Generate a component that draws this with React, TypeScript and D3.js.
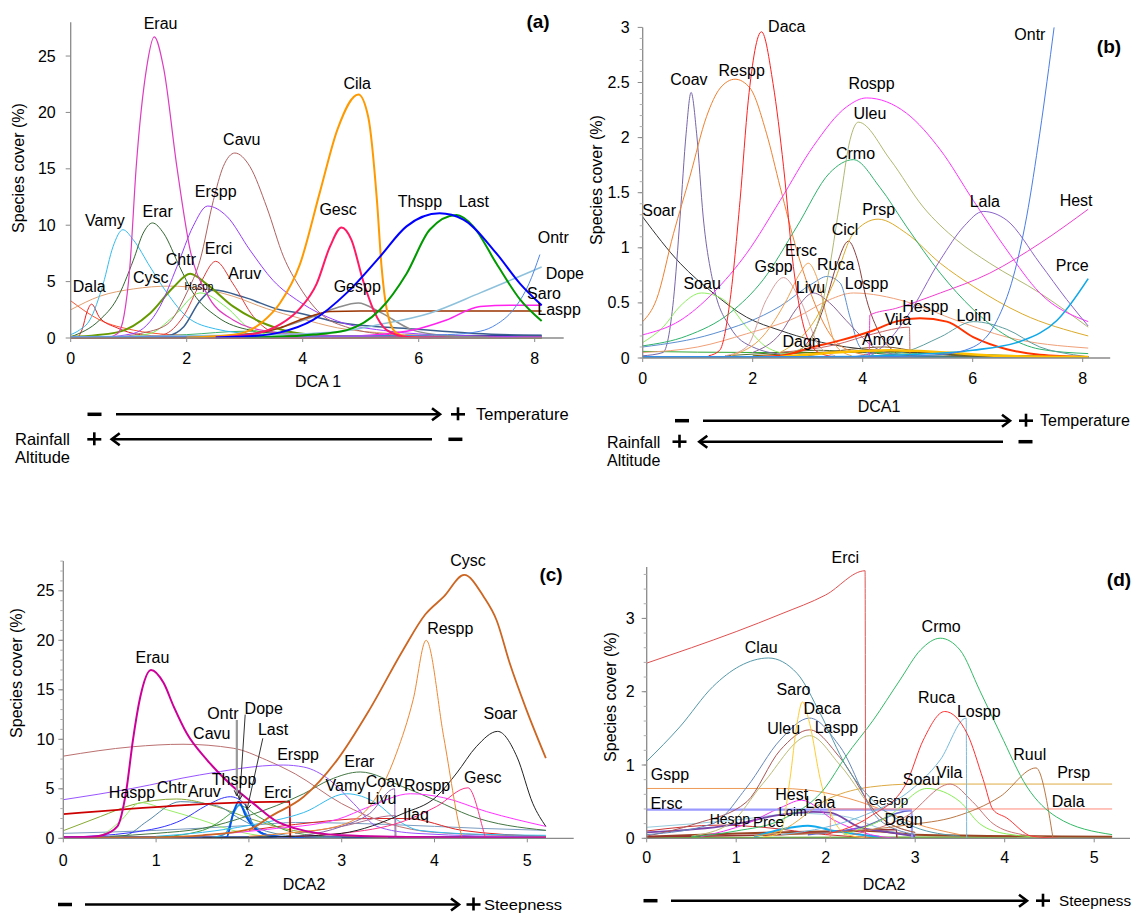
import React from 'react';
import * as d3 from 'd3';

type Pt = [number, number];
type Curve = { sp: string; pts: Pt[] };
type Lab = [string, number, number, number?];

const FONT = '"Liberation Sans", Arial, Helvetica, sans-serif';

// ---------- (a) cover along DCA1 ----------
const curvesA: Curve[] = [
  { sp: 'base1', pts: [[0, 0.02], [8.12, 0.05]] },
  { sp: 'base2', pts: [[0, 0.05], [3, 0.1], [5, 0.2], [8.12, 0.25]] },
  { sp: 'base3', pts: [[0, 0.05], [2, 0.3], [3, 0.6], [4, 0.4], [5, 0.1], [8.12, 0.05]] },
  { sp: 'Soar', pts: [[0, 3.3], [0.5, 1.6], [1.08, 0.7], [1.7, 0.3], [2.5, 0.15], [4, 0.05], [8.12, 0.02]] },
  { sp: 'Dala', pts: [[0.12, 0], [0.2, 0.8], [0.28, 2.3], [0.36, 3.0], [0.5, 1.8], [0.8, 0.9], [1.2, 0.3], [2, 0.08], [4, 0.02]] },
  { sp: 'Cysc', pts: [[0, 2.5], [0.5, 3.7], [1.08, 4.35], [1.71, 4.6], [2.23, 4.4], [2.8, 3.7], [3.38, 2.6], [3.95, 1.75], [4.6, 0.9], [5.5, 0.4], [6.5, 0.2], [8.12, 0.1]] },
  { sp: 'Vamy', pts: [[0, 0.3], [0.15, 0.7], [0.33, 1.6], [0.56, 4.8], [0.73, 8.1], [0.9, 9.6], [1.08, 8.7], [1.37, 6.3], [1.66, 4], [2.0, 1.9], [2.5, 0.8], [3.2, 0.35], [4.5, 0.15], [8.12, 0.05]] },
  { sp: 'Erar', pts: [[0, 0.1], [0.5, 1.6], [0.79, 3.4], [1.08, 6.9], [1.25, 9.3], [1.41, 10.2], [1.6, 9.3], [1.88, 6.3], [2.11, 4], [2.52, 1.9], [3.1, 0.7], [4, 0.25], [5.5, 0.1], [8.12, 0.05]] },
  { sp: 'Haspp', pts: [[0.8, 0.05], [1.37, 0.4], [1.77, 1.9], [2.23, 4.0], [2.69, 2.7], [3.1, 0.8], [3.6, 0.2], [4.5, 0.05]] },
  { sp: 'Aruv', pts: [[1.0, 0.05], [1.66, 0.2], [1.95, 1.0], [2.23, 3.3], [2.46, 4.25], [3.0, 3.6], [3.61, 2.5], [3.95, 2.2], [4.6, 1.4], [5.9, 0.8], [7, 0.4], [8.12, 0.2]] },
  { sp: 'Erci', pts: [[1.2, 0.05], [1.6, 0.3], [1.94, 1.9], [2.23, 4.8], [2.5, 6.8], [2.8, 4.8], [3.15, 1.9], [3.55, 0.4], [4.2, 0.05]] },
  { sp: 'Chtr', pts: [[0, 0.1], [0.8, 0.5], [1.37, 2.2], [1.77, 4.5], [2.06, 5.7], [2.34, 4.8], [2.8, 2.8], [3.38, 1.2], [3.95, 0.4], [5, 0.1], [8.12, 0.03]] },
  { sp: 'Erspp', pts: [[0.5, 0.05], [1.08, 0.4], [1.54, 2.8], [1.83, 6.3], [2.11, 9.9], [2.36, 11.7], [2.69, 10.8], [3.09, 7.8], [3.49, 5.1], [3.95, 3.2], [4.6, 1.5], [5.5, 0.6], [6.5, 0.25], [8.12, 0.1]] },
  { sp: 'Cavu', pts: [[0.8, 0.05], [1.2, 0.4], [1.66, 1.2], [2.0, 4], [2.23, 6.9], [2.46, 12.2], [2.63, 15.2], [2.83, 16.4], [3.09, 15.2], [3.38, 11.6], [3.67, 7.2], [3.95, 4.5], [4.3, 2.2], [4.8, 0.9], [5.5, 0.3], [6.5, 0.1]] },
  { sp: 'Erau', pts: [[0, 0.05], [0.6, 0.05], [0.81, 0.4], [0.92, 2], [1.02, 6.3], [1.13, 15.2], [1.31, 24], [1.44, 26.7], [1.6, 24], [1.83, 15.2], [2.06, 7.8], [2.34, 4], [2.8, 1.6], [3.4, 0.6], [4.2, 0.25], [5.5, 0.1], [8.12, 0.05]] },
  { sp: 'Gespp', pts: [[2.0, 0.05], [3.0, 0.3], [3.61, 0.9], [4.18, 1.9], [4.6, 2.7], [4.96, 3.1], [5.33, 2.3], [5.9, 0.7], [6.5, 0.2], [7.2, 0.05]] },
  { sp: 'Laspp', pts: [[0, 0.02], [2, 0.05], [3, 0.3], [3.61, 0.9], [3.95, 1.6], [4.18, 2.0], [4.47, 2.35], [5, 2.4], [8.12, 2.4]] },
  { sp: 'Dope', pts: [[0, 0.1], [2, 0.2], [3.5, 0.3], [4.5, 0.5], [5.33, 1.2], [6.19, 2.2], [7.06, 4], [8.12, 6.3]] },
  { sp: 'Saro', pts: [[3, 0.05], [4.5, 0.1], [5.33, 0.3], [5.9, 0.7], [6.48, 1.6], [7.06, 2.8], [7.6, 2.9], [8.12, 2.9]] },
  { sp: 'Ontr', pts: [[0, 0.1], [4, 0.15], [5.5, 0.2], [6.5, 0.3], [7.06, 0.6], [7.34, 1.2], [7.63, 2.5], [7.9, 4.8], [8.09, 7.4]] },
  { sp: 'Cila', pts: [[2.0, 0.05], [2.5, 0.15], [3.0, 0.5], [3.3, 1.4], [3.61, 3.1], [3.95, 6.5], [4.3, 13], [4.6, 18.5], [4.96, 21.6], [5.13, 19.6], [5.28, 12.2], [5.36, 6.3], [5.45, 2.5], [5.6, 0.5], [5.8, 0.1], [6.2, 0]] },
  { sp: 'Gesc', pts: [[2.5, 0.05], [3.2, 0.4], [3.61, 1.2], [3.95, 2.6], [4.24, 4.8], [4.47, 8.1], [4.67, 9.8], [4.84, 8.7], [5.04, 5.1], [5.22, 2.5], [5.45, 0.7], [5.8, 0.1], [6.2, 0]] },
  { sp: 'Last', pts: [[3.0, 0.05], [3.6, 0.1], [4.18, 0.3], [4.76, 0.7], [5.33, 2.5], [5.79, 5.7], [6.19, 9.6], [6.65, 10.9], [6.94, 9.9], [7.34, 6.6], [7.75, 3.4], [8.12, 1.5]] },
  { sp: 'Thspp', pts: [[2.5, 0.05], [3.2, 0.2], [3.61, 0.5], [4.18, 1.6], [4.76, 4], [5.33, 7.2], [5.79, 9.9], [6.36, 11.05], [6.77, 10.5], [7.34, 7.5], [7.75, 4.8], [8.12, 2.9]] },
];
const styleA: Record<string, [string, number]> = {
  base1: ['#e00000', 2], base2: ['#1f3a93', 1.2], base3: ['#3cb371', 1],
  Soar: ['#ff5533', 1], Dala: ['#e82020', 1], Cysc: ['#e0a070', 1], Vamy: ['#33bbee', 1],
  Erar: ['#336633', 1], Haspp: ['#77ee55', 1], Aruv: ['#3a5f8f', 1.5], Erci: ['#e03c3c', 1],
  Chtr: ['#669900', 2], Erspp: ['#9a3cff', 1], Cavu: ['#b06060', 1], Erau: ['#dd3cc0', 1.2],
  Gespp: ['#8c8c8c', 1.5], Laspp: ['#993300', 1.5], Dope: ['#8ec1dc', 1.5], Saro: ['#ff22ee', 1.5],
  Ontr: ['#4f86e8', 1], Cila: ['#ff9900', 2], Gesc: ['#ff1a66', 2], Last: ['#009900', 2], Thspp: ['#0000ff', 2],
};
const labelsA: Lab[] = [
  ['Erau', 1.55, 27.4], ['Cavu', 2.95, 17.1], ['Erspp', 2.5, 12.5], ['Vamy', 0.59, 9.93],
  ['Erar', 1.5, 10.75], ['Chtr', 1.9, 6.47], ['Erci', 2.55, 7.45], ['Cysc', 1.38, 4.9],
  ['Aruv', 3.0, 5.2], ['Haspp', 2.21, 4.26, 10], ['Dala', 0.32, 4.1], ['Cila', 4.94, 22.1],
  ['Gesc', 4.61, 10.9], ['Thspp', 6.02, 11.6], ['Last', 6.95, 11.6], ['Gespp', 4.94, 4.1],
  ['Ontr', 8.32, 8.4], ['Dope', 8.52, 5.25], ['Saro', 8.16, 3.45], ['Laspp', 8.42, 2.0],
];

// ---------- (b) cover along DCA1, small species ----------
const curvesB: Curve[] = [
  { sp: 'base1', pts: [[0, 0.01], [8.1, 0.01]] },
  { sp: 'base2', pts: [[0, 0.06], [2, 0.05], [4, 0.05], [6, 0.03], [8.1, 0.01]] },
  { sp: 'base3', pts: [[2, 0.02], [4, 0.06], [5, 0.05], [6, 0.02], [8.1, 0.01]] },
  { sp: 'Dagn', pts: [[1.5, 0.02], [2.5, 0.05], [3.2, 0.07], [4, 0.05], [5, 0.02], [8.1, 0.01]] },
  { sp: 'Amov', pts: [[3, 0.02], [3.8, 0.08], [4.4, 0.1], [5, 0.06], [5.8, 0.02], [8.1, 0.01]] },
  { sp: 'Soar', pts: [[0, 1.28], [0.68, 0.86], [1.28, 0.59], [1.89, 0.37], [2.5, 0.25], [3.1, 0.16], [3.7, 0.1], [5, 0.05], [8.1, 0.01]] },
  { sp: 'Coav', pts: [[0, 0.02], [0.37, 0.05], [0.56, 0.53], [0.68, 1.28], [0.79, 2.04], [0.88, 2.41], [0.98, 2.04], [1.1, 1.28], [1.28, 0.68], [1.59, 0.28], [2.0, 0.1], [2.6, 0.03], [3.5, 0.01]] },
  { sp: 'Respp', pts: [[0, 0.33], [0.25, 0.53], [0.56, 1.13], [0.86, 1.65], [1.16, 2.19], [1.41, 2.45], [1.68, 2.53], [1.95, 2.45], [2.25, 2.04], [2.5, 1.55], [2.8, 0.98], [3.1, 0.53], [3.4, 0.22], [3.7, 0.08], [4.2, 0.02]] },
  { sp: 'Soau', pts: [[0, 0.14], [0.37, 0.28], [0.68, 0.47], [1.07, 0.59], [1.47, 0.53], [1.89, 0.28], [2.25, 0.1], [2.7, 0.03]] },
  { sp: 'Lospp', pts: [[0, 0.05], [1.0, 0.1], [1.89, 0.22], [2.8, 0.37], [3.4, 0.53], [3.83, 0.59], [4.8, 0.51], [5.71, 0.34], [6.62, 0.19], [8.1, 0.09]] },
  { sp: 'Ruca', pts: [[0, 0.1], [1.28, 0.22], [2.5, 0.47], [3.1, 0.68], [3.35, 0.74], [3.59, 0.68], [3.77, 0.37], [3.95, 0.1], [4.2, 0.03]] },
  { sp: 'Gspp', pts: [[1.5, 0.02], [1.89, 0.1], [2.25, 0.53], [2.56, 0.73], [2.86, 0.53], [3.22, 0.1], [3.5, 0.02]] },
  { sp: 'Ersc', pts: [[1.6, 0.02], [2.19, 0.2], [2.62, 0.53], [2.86, 0.77], [3.01, 0.86], [3.16, 0.74], [3.35, 0.37], [3.53, 0.1], [3.8, 0.02]] },
  { sp: 'Livu', pts: [[2.0, 0.05], [2.5, 0.22], [2.8, 0.45], [3.1, 0.59], [3.4, 0.5], [3.7, 0.34], [4.2, 0.1], [4.6, 0.03]] },
  { sp: 'Cicl', pts: [[2.8, 0.05], [3.1, 0.22], [3.35, 0.55], [3.53, 0.85], [3.74, 1.06], [3.9, 0.9], [4.07, 0.53], [4.31, 0.22], [4.6, 0.05]] },
  { sp: 'Vila', pts: [[2.5, 0.05], [3.5, 0.12], [4.2, 0.22], [4.85, 0.28], [4.86, 0]] },
  { sp: 'Prsp', pts: [[2.5, 0.05], [2.8, 0.15], [3.1, 0.32], [3.47, 0.68], [3.83, 1.13], [4.28, 1.26], [4.8, 1.13], [5.41, 0.86], [6.01, 0.65], [6.9, 0.4], [8.1, 0.2]] },
  { sp: 'Crmo', pts: [[0, 0.11], [0.8, 0.2], [1.59, 0.41], [2.19, 0.71], [2.8, 1.19], [3.4, 1.68], [3.83, 1.8], [4.31, 1.55], [4.8, 1.19], [5.41, 0.77], [6.01, 0.44], [6.62, 0.2], [7.22, 0.08], [8.1, 0.04]] },
  { sp: 'Uleu', pts: [[2.5, 0.03], [3.0, 0.12], [3.2, 0.35], [3.4, 0.83], [3.59, 1.43], [3.77, 1.98], [3.92, 2.14], [4.5, 1.8], [5.1, 1.37], [5.71, 1.07], [6.31, 0.86], [7.22, 0.59], [8.1, 0.28]] },
  { sp: 'Rospp', pts: [[0, 0.21], [0.68, 0.34], [1.28, 0.59], [1.89, 0.95], [2.5, 1.43], [3.1, 1.92], [3.71, 2.28], [4.07, 2.36], [4.8, 2.22], [5.41, 1.89], [6.01, 1.43], [6.62, 0.98], [7.22, 0.59], [8.1, 0.33]] },
  { sp: 'Daca', pts: [[1.2, 0.02], [1.4, 0.07], [1.59, 0.53], [1.77, 1.43], [1.92, 2.34], [2.16, 2.96], [2.37, 2.49], [2.56, 1.74], [2.74, 0.83], [2.98, 0.2], [3.2, 0.05], [3.5, 0.01]] },
  { sp: 'Lala', pts: [[3.8, 0.01], [4.2, 0.05], [4.8, 0.37], [5.41, 0.89], [5.85, 1.2], [6.19, 1.33], [6.62, 1.25], [7.22, 0.86], [7.71, 0.53], [8.1, 0.29]] },
  { sp: 'Loim', pts: [[4.2, 0.02], [4.8, 0.06], [5.41, 0.19], [6.01, 0.33], [6.62, 0.26], [7.22, 0.1], [7.83, 0.03], [8.1, 0.01]] },
  { sp: 'Hest', pts: [[4.12, 0], [4.13, 0.39], [4.6, 0.45], [5.41, 0.59], [6.31, 0.77], [7.22, 1.04], [8.1, 1.35]] },
  { sp: 'Hespp', pts: [[2.0, 0.01], [2.5, 0.02], [3.1, 0.1], [3.59, 0.16], [4.19, 0.25], [4.6, 0.33], [5.04, 0.36], [5.53, 0.33], [6.01, 0.19], [6.62, 0.08], [7.22, 0.03], [8.1, 0.01]] },
  { sp: 'Gold', pts: [[2.5, 0.01], [3.5, 0.05], [4.5, 0.07], [5.5, 0.05], [6.5, 0.02], [8.1, 0.01]] },
  { sp: 'Prce', pts: [[0, 0.01], [3, 0.01], [4.8, 0.03], [6.0, 0.07], [6.92, 0.16], [7.53, 0.34], [8.1, 0.72]] },
  { sp: 'Ontr', pts: [[0, 0.01], [4, 0.01], [5.4, 0.03], [6.01, 0.1], [6.44, 0.34], [6.74, 0.74], [6.98, 1.28], [7.22, 2.04], [7.48, 3.0]] },
];
const styleB: Record<string, [string, number]> = {
  base1: ['#0070c0', 1.5], base2: ['#33aa33', 1], base3: ['#666600', 1], Dagn: ['#556b2f', 1], Amov: ['#7a5a2a', 1],
  Soar: ['#333333', 1], Coav: ['#7766aa', 1], Respp: ['#f08030', 1], Soau: ['#90ee60', 1], Lospp: ['#f0a078', 1],
  Ruca: ['#5b8fd0', 1], Gspp: ['#d8a0a0', 1], Ersc: ['#f0a050', 1], Livu: ['#8a6699', 1], Cicl: ['#8b4040', 1],
  Vila: ['#c86464', 1], Prsp: ['#dcaa28', 1], Crmo: ['#2db36b', 1], Uleu: ['#b0b870', 1], Rospp: ['#ff33ff', 1],
  Daca: ['#ff2020', 1], Lala: ['#8a63c9', 1], Loim: ['#5f9ea0', 1], Hest: ['#f040d0', 1], Hespp: ['#ff3300', 2],
  Gold: ['#ffc000', 2.5], Prce: ['#10a8e8', 1.6], Ontr: ['#4a7de8', 1],
};
const labelsB: Lab[] = [
  ['Soar', 0.3, 1.29], ['Coav', 0.84, 2.48], ['Respp', 1.8, 2.56], ['Daca', 2.62, 2.96],
  ['Soau', 1.08, 0.63], ['Gspp', 2.38, 0.78], ['Ersc', 2.88, 0.93], ['Ruca', 3.51, 0.8],
  ['Livu', 3.05, 0.59], ['Cicl', 3.68, 1.12], ['Dagn', 2.89, 0.1], ['Crmo', 3.87, 1.81],
  ['Rospp', 4.16, 2.44], ['Uleu', 4.13, 2.17], ['Prsp', 4.29, 1.3], ['Lospp', 4.07, 0.63],
  ['Hespp', 5.14, 0.42], ['Vila', 4.64, 0.3], ['Amov', 4.36, 0.12], ['Loim', 6.02, 0.34],
  ['Lala', 6.22, 1.37], ['Hest', 7.88, 1.38], ['Prce', 7.81, 0.79], ['Ontr', 7.04, 2.89],
];

// ---------- (c) cover along DCA2 ----------
const curvesC: Curve[] = [
  { sp: 'base1', pts: [[0, 0.1], [5.2, 0.1]] },
  { sp: 'base2', pts: [[0, 0.5], [1, 0.8], [2, 1.3], [2.5, 1.6], [3.5, 1.4], [4.5, 1.0], [5.2, 0.8]] },
  { sp: 'Ilaq', pts: [[2.0, 0.8], [2.5, 1.4], [3.3, 2.0], [3.7, 2.0], [4.3, 0.8], [5.2, 0.2]] },
  { sp: 'Cavu', pts: [[0, 8.3], [0.75, 9.25], [1.29, 9.5], [1.83, 9.1], [2.19, 7.9], [2.5, 6.5], [3.0, 3.5], [3.5, 1.5], [4, 0.6], [5.2, 0.2]] },
  { sp: 'Erspp', pts: [[0, 3.9], [0.75, 5.05], [1.47, 6.4], [2.37, 7.4], [2.59, 7.2], [2.87, 5.9], [3.13, 3.5], [3.38, 1.2], [3.8, 0.5], [5.2, 0.1]] },
  { sp: 'Chtr', pts: [[0, 0.77], [0.4, 2.2], [0.75, 3.4], [1.22, 3.97], [1.65, 3.2], [2.01, 2.0], [2.37, 1.0], [2.8, 0.4], [3.5, 0.1]] },
  { sp: 'Haspp', pts: [[0.2, 0.05], [0.4, 0.3], [0.61, 1.7], [0.83, 3.6], [1.11, 2.9], [1.47, 1.9], [1.83, 0.8], [2.2, 0.2], [2.6, 0.05]] },
  { sp: 'Aruv', pts: [[0.5, 0.05], [0.68, 0.3], [0.9, 1.7], [1.26, 3.7], [1.65, 3.3], [1.9, 2.0], [2.19, 0.7], [2.6, 0.15], [3, 0.05]] },
  { sp: 'Thspp', pts: [[0, 0.1], [0.75, 0.6], [1.29, 1.9], [1.54, 3.3], [1.8, 4.2], [1.95, 3.5], [2.05, 1.3], [2.19, 0.4], [2.5, 0.1]] },
  { sp: 'Last', pts: [[1.0, 0.1], [1.5, 0.8], [1.8, 2.5], [1.9, 3.3], [2.1, 2.2], [2.4, 0.8], [2.8, 0.2]] },
  { sp: 'Dope', pts: [[1.6, 0.05], [1.75, 0.5], [1.85, 2.8], [1.9, 3.4], [2.0, 2.0], [2.15, 0.5], [2.4, 0.1]] },
  { sp: 'Ontr', pts: [[1.7, 0], [1.76, 0.1], [1.83, 2.5], [1.89, 3.7], [1.97, 2.2], [2.12, 0.6], [2.26, 0.2], [2.6, 0.05]] },
  { sp: 'Erci', pts: [[0, 2.45], [2.44, 3.7], [2.445, 0]] },
  { sp: 'Erar', pts: [[0.5, 0.2], [1.0, 0.5], [1.5, 1.0], [2.0, 2.3], [2.59, 4.5], [2.87, 5.9], [3.2, 6.7], [3.66, 5.2], [4.02, 3.8], [4.38, 2.3], [5.2, 0.8]] },
  { sp: 'Vamy', pts: [[1.0, 0.2], [1.5, 0.6], [2.0, 1.3], [2.59, 2.6], [3.05, 4.5], [3.38, 3.5], [3.59, 1.9], [3.84, 0.8], [4.5, 0.4], [5.2, 0.3]] },
  { sp: 'Livu', pts: [[2.5, 0.5], [3.0, 1.2], [3.58, 2.3], [3.585, 0]] },
  { sp: 'Coav', pts: [[2.3, 0.1], [2.6, 0.3], [3.0, 1.2], [3.3, 2.5], [3.57, 5.0], [3.575, 0]] },
  { sp: 'Rospp', pts: [[1.5, 0.3], [2.2, 0.9], [2.95, 1.9], [3.3, 3.2], [3.74, 4.5], [4.1, 4.1], [4.56, 2.7], [5.2, 1.2]] },
  { sp: 'Gesc', pts: [[2.5, 0.2], [3, 0.5], [3.66, 1.7], [4.02, 3.2], [4.36, 5.1], [4.54, 0.33], [4.55, 0]] },
  { sp: 'Soar', pts: [[1.5, 0.05], [2.5, 0.2], [3, 0.5], [3.66, 2.5], [4.02, 4.2], [4.24, 6.6], [4.45, 9.25], [4.68, 10.8], [4.89, 8.2], [5.06, 3.5], [5.2, 1.2]] },
  { sp: 'Respp', pts: [[2.0, 0.2], [2.5, 0.6], [2.95, 1.2], [3.3, 3.2], [3.59, 8.6], [3.77, 14.0], [3.91, 20.0], [4.1, 10.2], [4.29, 0.33], [4.3, 0]] },
  { sp: 'Cysc', pts: [[0, 0.05], [1.0, 0.1], [1.5, 0.3], [2.0, 0.9], [2.23, 2.2], [2.59, 4.2], [2.95, 7.9], [3.3, 13.0], [3.66, 19.0], [3.9, 22.6], [4.1, 24.4], [4.32, 26.6], [4.53, 24.4], [4.67, 22.0], [4.81, 17.7], [4.99, 13.0], [5.2, 8.1]] },
  { sp: 'Erau', pts: [[0, 0.1], [0.3, 0.15], [0.43, 0.33], [0.58, 1.17], [0.68, 4.9], [0.75, 9.9], [0.83, 14.3], [0.945, 17.0], [1.08, 15.7], [1.19, 13.3], [1.33, 10.6], [1.55, 7.9], [1.83, 5.2], [2.05, 3.5], [2.3, 1.7], [2.5, 1.0], [3.0, 0.3], [4, 0.1], [5.2, 0.05]] },
];
const styleC: Record<string, [string, number]> = {
  base1: ['#1f3a93', 2], base2: ['#7a9cc0', 1], Ilaq: ['#dd2222', 1], Cavu: ['#bb7070', 1], Erspp: ['#9955ff', 1],
  Chtr: ['#88aa33', 1], Haspp: ['#99ee66', 1], Aruv: ['#5588aa', 1], Thspp: ['#3333ff', 1], Last: ['#3fa03f', 1],
  Dope: ['#2a9fd6', 1.5], Ontr: ['#0055ee', 2], Erci: ['#cc0000', 1.8], Erar: ['#447744', 1], Vamy: ['#33bbee', 1],
  Livu: ['#b07090', 1], Coav: ['#8866aa', 1], Rospp: ['#ff33ff', 1], Gesc: ['#ff3388', 1], Soar: ['#222222', 1],
  Respp: ['#ee8833', 1], Cysc: ['#cc6622', 1.8], Erau: ['#cc0099', 2],
};
const labelsC: Lab[] = [
  ['Erau', 0.96, 17.7], ['Cavu', 1.6, 10.0], ['Haspp', 0.74, 4.04], ['Chtr', 1.17, 4.6],
  ['Aruv', 1.52, 4.2], ['Thspp', 1.84, 5.38], ['Ontr', 1.72, 12.1], ['Dope', 2.16, 12.6],
  ['Last', 2.26, 10.4], ['Erci', 2.31, 4.1], ['Erspp', 2.53, 7.9], ['Erar', 3.19, 7.2],
  ['Vamy', 3.04, 4.8], ['Coav', 3.46, 5.2], ['Livu', 3.43, 3.5], ['Rospp', 3.92, 4.8],
  ['Ilaq', 3.8, 1.85], ['Gesc', 4.52, 5.55], ['Soar', 4.71, 12.1], ['Respp', 4.17, 20.6], ['Cysc', 4.36, 27.5],
];
// leader lines in (c): [from x, from y, to x, to y]
const leadersC: [number, number, number, number][] = [
  [1.87, 11.95, 1.87, 4.3], [1.96, 12.5, 1.9, 3.9], [2.15, 10.1, 1.98, 2.9],
];

// ---------- (d) cover along DCA2, small species ----------
const curvesD: Curve[] = [
  { sp: 'base1', pts: [[0, 0.01], [5.2, 0.02]] },
  { sp: 'base2', pts: [[0, 0.02], [2.5, 0.1], [3, 0.05], [5.2, 0.02]] },
  { sp: 'Hespp', pts: [[0, 0.1], [0.82, 0.18], [1.3, 0.15], [2, 0.05], [2.5, 0.01]] },
  { sp: 'Loim', pts: [[0, 0.15], [1, 0.25], [1.7, 0.34], [2.2, 0.3], [2.7, 0.1], [3, 0.03]] },
  { sp: 'Dagn', pts: [[0, 0.02], [1.5, 0.05], [2.79, 0.12], [2.795, 0]] },
  { sp: 'Gespp', pts: [[1.8, 0.05], [2.4, 0.15], [2.96, 0.38], [2.965, 0]] },
  { sp: 'Prce', pts: [[1.2, 0.02], [1.5, 0.12], [1.8, 0.17], [2.1, 0.1], [2.6, 0.02]] },
  { sp: 'Lala', pts: [[0, 0.08], [0.93, 0.18], [1.49, 0.32], [1.86, 0.36], [2.05, 0.35], [2.38, 0.15], [2.6, 0.1], [3, 0.03]] },
  { sp: 'Hest', pts: [[0.6, 0.02], [1.12, 0.2], [1.5, 0.42], [1.73, 0.52], [2.09, 0.25], [2.5, 0.05], [2.8, 0]] },
  { sp: 'Gspp', pts: [[0, 0.68], [1.5, 0.68], [2, 0.62], [2.5, 0.45], [3, 0.2], [3.5, 0.05]] },
  { sp: 'Ersc', pts: [[0, 0.39], [2.96, 0.39], [2.965, 0]] },
  { sp: 'Dala', pts: [[2.05, 0], [2.055, 0.4], [5.2, 0.4]] },
  { sp: 'Prsp', pts: [[1.2, 0.03], [1.49, 0.1], [2.05, 0.55], [2.5, 0.7], [3, 0.74], [5.2, 0.74]] },
  { sp: 'Uleu', pts: [[0.5, 0.03], [0.93, 0.2], [1.3, 0.75], [1.82, 1.4], [2.16, 1.0], [2.6, 0.3], [3, 0.08]] },
  { sp: 'Laspp', pts: [[0, 0.03], [0.55, 0.2], [1.12, 0.5], [1.49, 1.2], [1.82, 1.48], [2.16, 1.1], [2.6, 0.3], [3, 0.08]] },
  { sp: 'Daca', pts: [[0, 0.05], [0.74, 0.2], [1.12, 0.7], [1.49, 1.34], [1.82, 1.64], [2.16, 1.25], [2.6, 0.25], [3, 0.05]] },
  { sp: 'Saro', pts: [[1.3, 0.02], [1.49, 0.07], [1.6, 0.8], [1.68, 1.57], [1.74, 1.86], [1.82, 1.57], [1.94, 0.8], [2.09, 0.25], [2.24, 0.05], [2.5, 0]] },
  { sp: 'Clau', pts: [[0, 1.05], [0.37, 1.52], [0.74, 2.07], [1.04, 2.35], [1.36, 2.46], [1.68, 2.25], [1.94, 1.7], [2.23, 0.98], [2.5, 0.55], [3.0, 0.15], [3.5, 0.03]] },
  { sp: 'Soau', pts: [[2.2, 0.05], [2.7, 0.3], [3.13, 0.68], [3.5, 0.5], [3.72, 0.2], [4.02, 0.06], [4.5, 0.01]] },
  { sp: 'Vila', pts: [[2.3, 0.05], [2.9, 0.3], [3.39, 0.74], [3.64, 0.5], [3.87, 0.2], [4.2, 0.05], [4.6, 0]] },
  { sp: 'Ruul', pts: [[1.5, 0.05], [2.5, 0.12], [2.9, 0.18], [3.46, 0.3], [3.95, 0.57], [4.35, 0.96], [4.54, 0]] },
  { sp: 'Lospp', pts: [[1.5, 0.05], [2.0, 0.15], [2.5, 0.35], [2.9, 0.61], [3.28, 1.07], [3.57, 1.64], [3.575, 0]] },
  { sp: 'Ruca', pts: [[2.0, 0.05], [2.5, 0.3], [2.9, 0.75], [3.09, 1.34], [3.33, 1.73], [3.58, 1.43], [3.76, 0.8], [3.87, 0.39], [4.02, 0.28], [4.3, 0.03], [4.6, 0]] },
  { sp: 'Crmo', pts: [[0.5, 0.02], [1, 0.1], [1.5, 0.25], [2, 0.7], [2.22, 1.11], [2.53, 1.61], [2.83, 2.16], [3.06, 2.57], [3.28, 2.73], [3.5, 2.57], [3.72, 2.02], [3.95, 1.43], [4.25, 0.7], [4.58, 0.29], [5.2, 0.05]] },
  { sp: 'Erci', pts: [[0, 2.39], [0.5, 2.6], [1, 2.82], [1.5, 3.06], [2, 3.32], [2.44, 3.65], [2.445, 0]] },
];
const styleD: Record<string, [string, number]> = {
  base1: ['#66aa33', 1.5], base2: ['#994422', 2], Hespp: ['#cc3333', 1], Loim: ['#99ccdd', 1], Dagn: ['#993333', 1.5],
  Gespp: ['#6666cc', 1.5], Prce: ['#11aaee', 2], Lala: ['#7744aa', 1.8], Hest: ['#ee33ee', 1], Gspp: ['#ee9955', 1],
  Ersc: ['#9999ff', 2.2], Dala: ['#ff8877', 1], Prsp: ['#ddaa44', 1], Uleu: ['#bbbb77', 1], Laspp: ['#aa5555', 1],
  Daca: ['#6688bb', 1], Saro: ['#ffcc33', 1], Clau: ['#5599aa', 1], Soau: ['#88ee55', 1], Vila: ['#cc7777', 1],
  Ruul: ['#bb7744', 1], Lospp: ['#77bbdd', 1], Ruca: ['#ff3333', 1], Crmo: ['#33bb66', 1], Erci: ['#e05050', 1],
};
const labelsD: Lab[] = [
  ['Erci', 2.22, 3.75], ['Clau', 1.28, 2.53], ['Saro', 1.64, 1.96], ['Daca', 1.96, 1.7],
  ['Uleu', 1.53, 1.42], ['Laspp', 2.12, 1.44], ['Gspp', 0.26, 0.8], ['Ersc', 0.22, 0.4],
  ['Hest', 1.62, 0.52], ['Hespp', 0.93, 0.2, 14], ['Prce', 1.36, 0.15, 15], ['Loim', 1.63, 0.3, 13],
  ['Lala', 1.94, 0.41], ['Gespp', 2.7, 0.45, 13.5], ['Dagn', 2.87, 0.18], ['Soau', 3.07, 0.73],
  ['Vila', 3.38, 0.82], ['Crmo', 3.29, 2.82], ['Ruca', 3.24, 1.84], ['Lospp', 3.71, 1.66],
  ['Ruul', 4.28, 1.07], ['Prsp', 4.77, 0.82], ['Dala', 4.71, 0.43],
];

type PanelProps = {
  curves: Curve[]; styles: Record<string, [string, number]>; labels: Lab[];
  xr: [number, number]; yr: [number, number]; xd: [number, number]; yd: [number, number];
  xTicks: number[]; yTicks: number[]; yMinor?: number[]; yGap: number; xTickY: number;
  letter: string; letterPos: [number, number]; xTitle: string; xTitlePos: [number, number];
  yTitlePos: [number, number]; leaders?: [number, number, number, number][];
};

function Panel(p: PanelProps) {
  const x = d3.scaleLinear().domain(p.xd).range(p.xr);
  const y = d3.scaleLinear().domain(p.yd).range(p.yr);
  const line = d3.line<Pt>().x(d => x(d[0])).y(d => y(d[1])).curve(d3.curveMonotoneX);
  const ax = '#8a8a8a';
  const fmt = (v: number) => String(v);
  return (
    <g>
      {p.curves.map(c => (
        <path key={c.sp} d={line(c.pts) || ''} fill="none" stroke={p.styles[c.sp][0]} strokeWidth={p.styles[c.sp][1]} strokeLinejoin="round" />
      ))}
      <line x1={p.xr[0]} x2={p.xr[1]} y1={y(0)} y2={y(0)} stroke={ax} strokeWidth={1.3} />
      <line x1={x(0)} x2={x(0)} y1={y(0)} y2={p.yr[1]} stroke={ax} strokeWidth={1.3} />
      {p.xTicks.map(t => (
        <g key={'x' + t}>
          <line x1={x(t)} x2={x(t)} y1={y(0)} y2={y(0) + 4} stroke={ax} />
          <text x={x(t)} y={p.xTickY} textAnchor="middle" fontSize={16}>{fmt(t)}</text>
        </g>
      ))}
      {(p.yMinor || []).map(t => (
        <line key={'m' + t} x1={x(0) - 3} x2={x(0)} y1={y(t)} y2={y(t)} stroke="#b0b0b0" />
      ))}
      {p.yTicks.map(t => (
        <g key={'y' + t}>
          <line x1={x(0) - 5} x2={x(0)} y1={y(t)} y2={y(t)} stroke={ax} />
          <text x={x(0) - p.yGap} y={y(t) + 5.5} textAnchor="end" fontSize={16}>{fmt(t)}</text>
        </g>
      ))}
      {(p.leaders || []).map((l, i) => {
        const x1 = x(l[0]), y1 = y(l[1]), x2 = x(l[2]), y2 = y(l[3]);
        const a = Math.atan2(y2 - y1, x2 - x1);
        const h = 6;
        const hp = `M${x2 - h * Math.cos(a - 0.45)},${y2 - h * Math.sin(a - 0.45)}L${x2},${y2}L${x2 - h * Math.cos(a + 0.45)},${y2 - h * Math.sin(a + 0.45)}`;
        return (
          <g key={'l' + i}>
            <line x1={x1} y1={y1} x2={x2} y2={y2} stroke={i === 0 ? '#999' : '#333'} strokeWidth={i === 0 ? 2.2 : 1} />
            <path d={hp} fill="none" stroke="#222" strokeWidth={1} />
          </g>
        );
      })}
      {p.labels.map(([t, lx, ly, fs], i) => (
        <text key={'t' + i} x={x(lx)} y={y(ly)} textAnchor="middle" fontSize={fs || 16}>{t}</text>
      ))}
      <text x={p.letterPos[0]} y={p.letterPos[1]} textAnchor="middle" fontSize={19} fontWeight="bold">{p.letter}</text>
      <text x={p.xTitlePos[0]} y={p.xTitlePos[1]} textAnchor="middle" fontSize={16}>{p.xTitle}</text>
      <text transform={`translate(${p.yTitlePos[0]},${p.yTitlePos[1]}) rotate(-90)`} textAnchor="middle" dominantBaseline="middle" fontSize={16}>Species cover (%)</text>
    </g>
  );
}

function Arrow({ x1, x2, y }: { x1: number; x2: number; y: number }) {
  const d = x2 > x1 ? -1 : 1;
  return (
    <g stroke="#000" fill="none" strokeWidth={2.6}>
      <line x1={x1} x2={x2 + d * 1.5} y1={y} y2={y} />
      <path d={`M${x2 + d * 8},${y - 6}L${x2},${y}L${x2 + d * 8},${y + 6}`} strokeLinejoin="miter" />
    </g>
  );
}
const Minus = ({ x, y }: { x: number; y: number }) => <line x1={x - 7} x2={x + 7} y1={y} y2={y} stroke="#000" strokeWidth={3.5} />;
const Plus = ({ x, y }: { x: number; y: number }) => (
  <g stroke="#000" strokeWidth={2.6}>
    <line x1={x - 7} x2={x + 7} y1={y} y2={y} />
    <line x1={x} x2={x} y1={y - 7} y2={y + 6} />
  </g>
);

export default function App() {
  return (
    <svg width={1134} height={916} style={{ position: 'absolute', left: 0, top: 0, background: '#fff' }} fontFamily={FONT}>
      <rect width={1134} height={916} fill="#fff" />
      <Panel curves={curvesA} styles={styleA} labels={labelsA}
        xr={[70.7, 563.7]} yr={[338, 22.2]} xd={[0, 8.5]} yd={[0, 28]}
        xTicks={[0, 2, 4, 6, 8]} yTicks={[0, 5, 10, 15, 20, 25]} yGap={15} xTickY={364}
        letter="(a)" letterPos={[538, 28]} xTitle="DCA 1" xTitlePos={[318, 387]} yTitlePos={[20, 168]} />
      <Panel curves={curvesB} styles={styleB} labels={labelsB}
        xr={[642.7, 1110.2]} yr={[358, 27.4]} xd={[0, 8.5]} yd={[0, 3]}
        xTicks={[0, 2, 4, 6, 8]} yTicks={[0, 0.5, 1, 1.5, 2, 2.5, 3]} yMinor={d3.range(0, 30).map(i => i / 10)}
        yGap={13} xTickY={384}
        letter="(b)" letterPos={[1109, 53]} xTitle="DCA1" xTitlePos={[879, 412]} yTitlePos={[598, 180]} />
      <Panel curves={curvesC} styles={styleC} labels={labelsC} leaders={leadersC}
        xr={[63.3, 573.7]} yr={[838.3, 561.1]} xd={[0, 5.5]} yd={[0, 28]}
        xTicks={[0, 1, 2, 3, 4, 5]} yTicks={[0, 5, 10, 15, 20, 25]} yMinor={d3.range(0, 29)}
        yGap={9} xTickY={866}
        letter="(c)" letterPos={[551, 581]} xTitle="DCA2" xTitlePos={[304, 890]} yTitlePos={[18, 673]} />
      <Panel curves={curvesD} styles={styleD} labels={labelsD}
        xr={[646.7, 1130]} yr={[838.3, 567.1]} xd={[0, 5.4]} yd={[0, 3.7]}
        xTicks={[0, 1, 2, 3, 4, 5]} yTicks={[0, 1, 2, 3]} yMinor={d3.range(0, 19).map(i => i / 5)}
        yGap={12} xTickY={863}
        letter="(d)" letterPos={[1119, 586]} xTitle="DCA2" xTitlePos={[884, 890]} yTitlePos={[612, 697]} />

      {/* gradient arrows under (a) */}
      <Minus x={94.5} y={414.3} />
      <Arrow x1={116} x2={440} y={414.3} />
      <Plus x={458} y={414.3} />
      <text x={476} y={420} fontSize={16.5}>Temperature</text>
      <text x={15} y={445} fontSize={16.5}>Rainfall</text>
      <text x={15} y={462.7} fontSize={16.5}>Altitude</text>
      <Plus x={94.3} y={439.3} />
      <Arrow x1={432} x2={111.7} y={439.3} />
      <Minus x={455.4} y={439.3} />

      {/* gradient arrows under (b) */}
      <Minus x={682} y={420.7} />
      <Arrow x1={703} x2={1010} y={420.7} />
      <Plus x={1026} y={420.7} />
      <text x={1040} y={426} fontSize={16}>Temperature</text>
      <text x={607} y={448.3} fontSize={16}>Rainfall</text>
      <text x={607} y={465.5} fontSize={16}>Altitude</text>
      <Plus x={679.5} y={441.7} />
      <Arrow x1={1003} x2={699.3} y={441.7} />
      <Minus x={1025.5} y={441.7} />

      {/* steepness arrows under (c) and (d) */}
      <Minus x={65} y={904.5} />
      <Arrow x1={85} x2={459} y={904.5} />
      <Plus x={473.5} y={904.5} />
      <text x={484} y={910} fontSize={15} textLength={78} lengthAdjust="spacingAndGlyphs">Steepness</text>
      <Minus x={650.5} y={900.7} />
      <Arrow x1={671} x2={1027} y={900.7} />
      <Plus x={1043} y={900.7} />
      <text x={1059} y={906} fontSize={15} textLength={72} lengthAdjust="spacingAndGlyphs">Steepness</text>
    </svg>
  );
}
